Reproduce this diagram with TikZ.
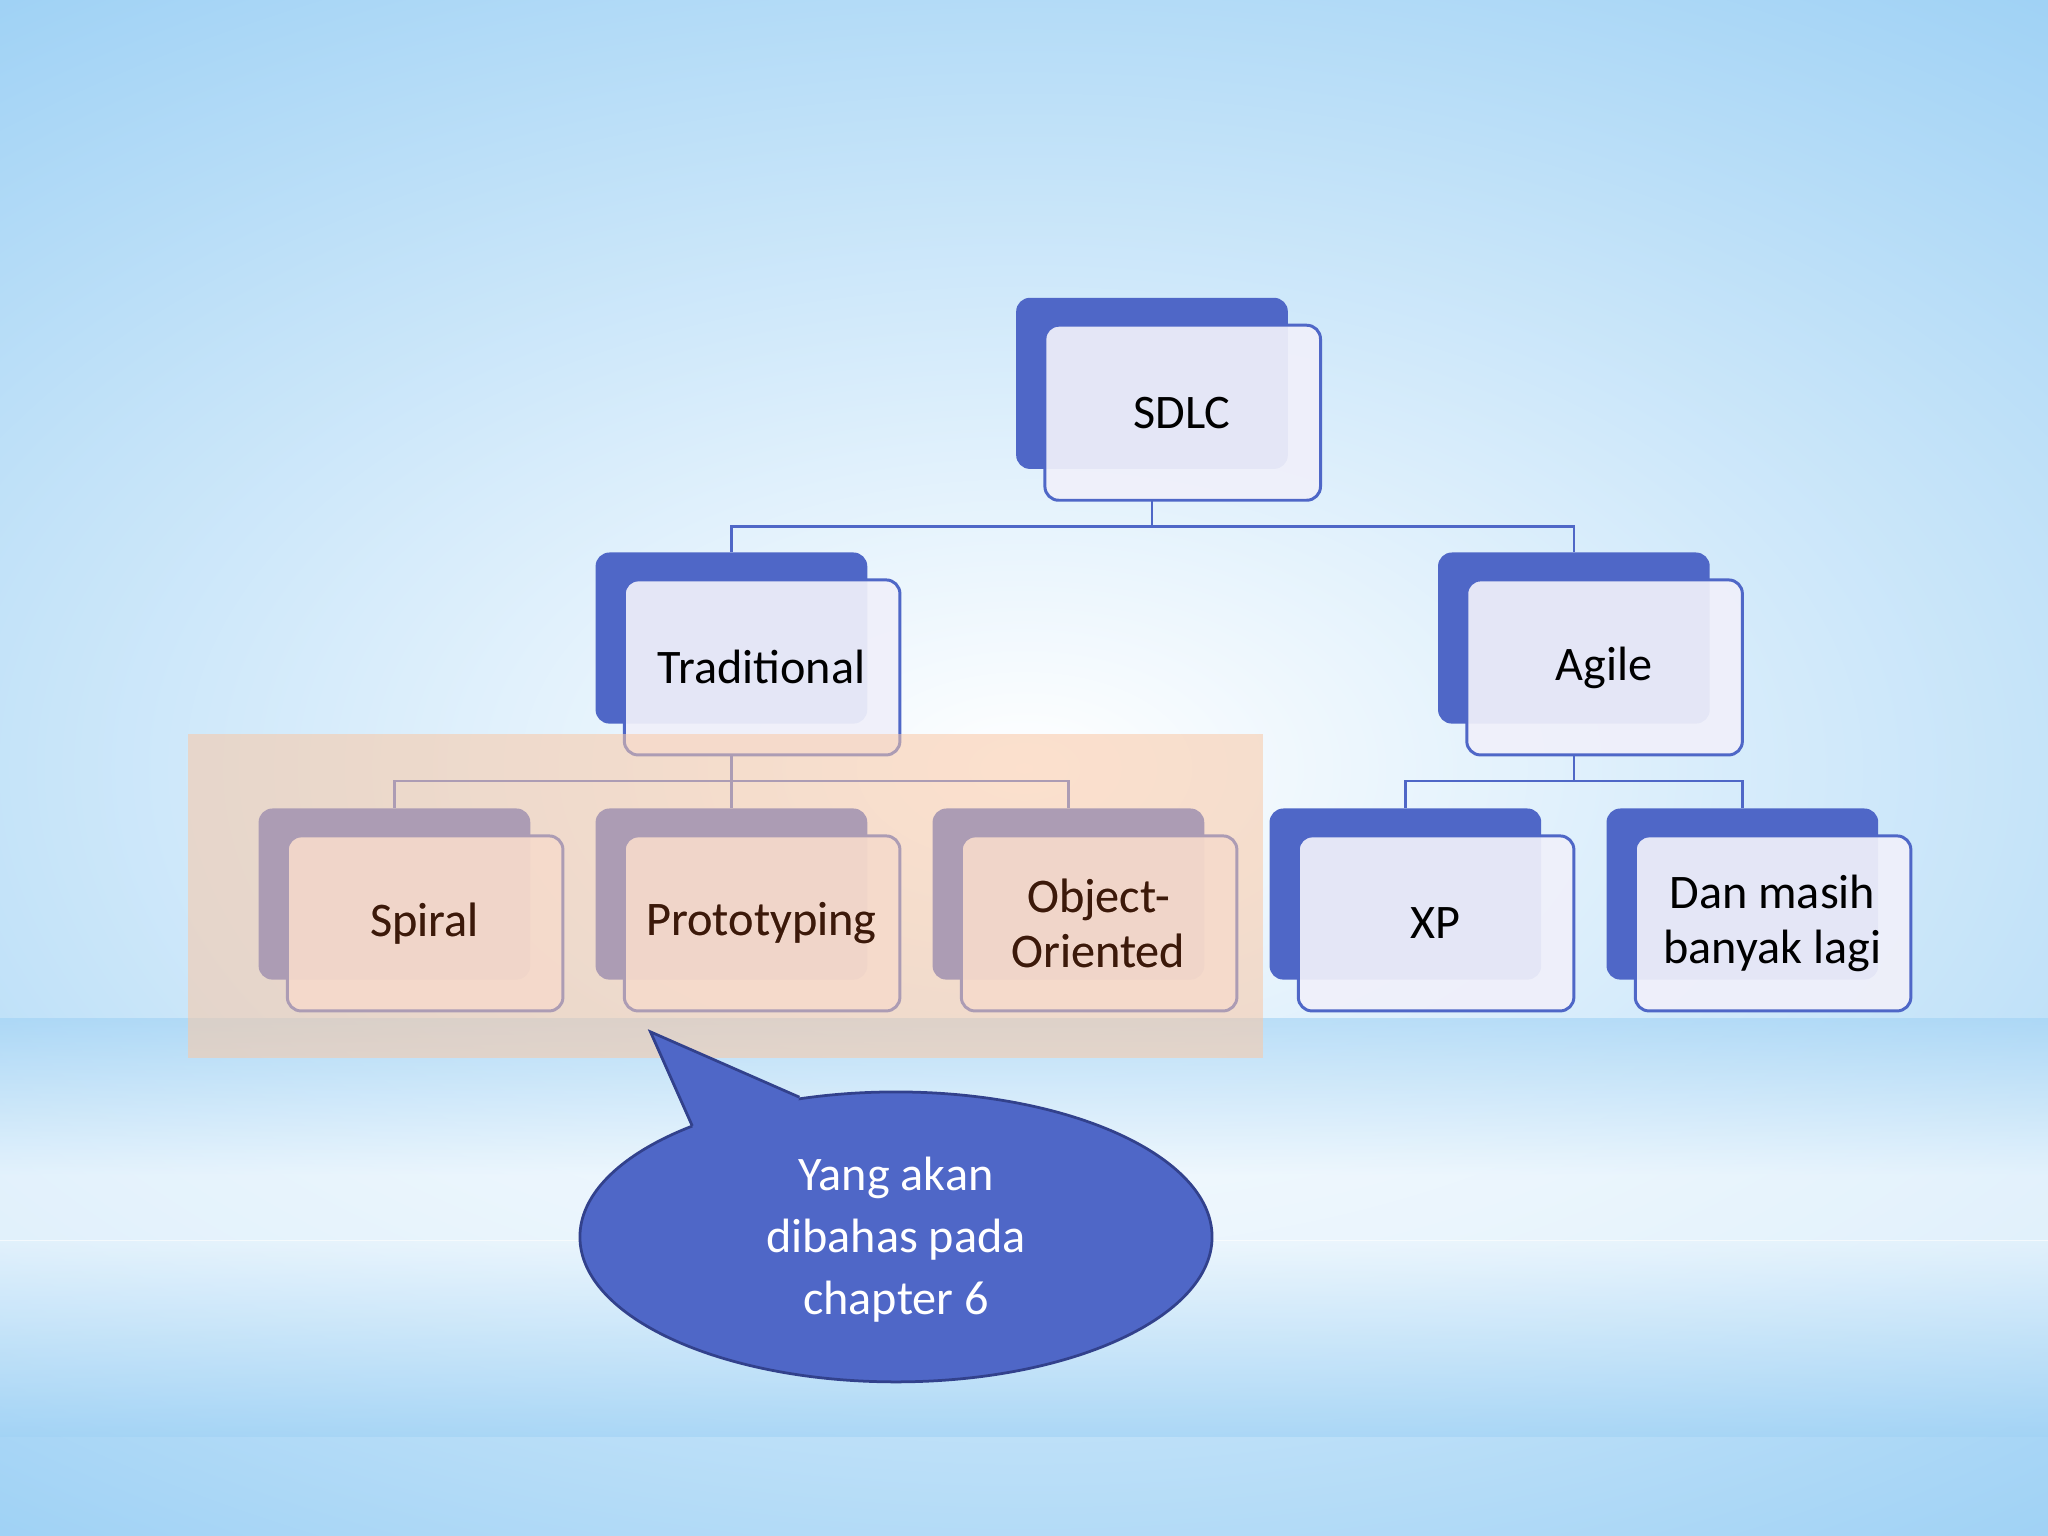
\documentclass[tikz,border=0pt]{standalone}
\usepackage{fontspec}
\setmainfont{Carlito}
\usetikzlibrary{shapes.geometric}
\definecolor{bblue}{RGB}{79,103,199}
\definecolor{lblue}{RGB}{160,210,245}
\definecolor{peach}{RGB}{250,200,165}
\definecolor{brownt}{RGB}{60,25,10}
\definecolor{dblue}{RGB}{50,65,140}
\begin{document}
\begin{tikzpicture}[x=0.02cm,y=-0.02cm,
  back/.style={fill=bblue,rounded corners=6pt},
  front/.style={draw=bblue,line width=1.3pt,fill={rgb,255:red,240;green,240;blue,250},fill opacity=0.93,rounded corners=6pt},
  lbl/.style={font=\fontsize{21}{22}\selectfont,align=center,text=black},
  conn/.style={draw=bblue,line width=1.2pt}]
\useasboundingbox (0,0) rectangle (1568,1176);
\fill[lblue] (0,0) rectangle (1568,1176);
\shade[inner color=white,outer color=lblue] (-500,-150) rectangle (2068,1326);
\shade[top color=white!0!lblue,bottom color=white,opacity=0.6] (0,780) rectangle (1568,900);
\fill[white,opacity=0.6] (0,900) rectangle (1568,950);
\shade[top color=white,bottom color=lblue,opacity=0.6] (0,950) rectangle (1568,1100);
% boxes
\newcommand{\mybox}[4]{%
  \fill[back] (#2,#3) rectangle ++(208,131);
  \draw[front] (#2+22,#3+21) rectangle ++(211,134);
  \node[lbl] (#1) at (#2+127,#3+88) {#4};
  \coordinate (#1t) at (#2+104,#3);
  \coordinate (#1b) at (#2+104,#3+155);}
\mybox{sdlc}{778}{228}{SDLC}
\mybox{trad}{456}{423}{Traditional}
\mybox{agile}{1101}{423}{Agile}
\mybox{spiral}{198}{619}{Spiral}
\mybox{proto}{456}{619}{Prototyping}
\mybox{oo}{714}{619}{Object-\\[2pt]Oriented}
\mybox{xp}{972}{619}{XP}
\mybox{dan}{1230}{619}{Dan masih\\[2pt]banyak lagi}
\draw[conn] (sdlcb) -- ++(0,20) -| (tradt);
\draw[conn] (sdlcb) ++(0,20) -| (agilet);
\draw[conn] (tradb) -- ++(0,20) -| (spiralt);
\draw[conn] (tradb) ++(0,20) -| (oot);
\draw[conn] (tradb) ++(0,20) -- (protot);
\draw[conn] (agileb) -- ++(0,20) -| (xpt);
\draw[conn] (agileb) ++(0,20) -| (dant);
% overlay
\fill[peach,opacity=0.55] (144,562) rectangle (967,810);
\node[lbl,text=brownt] at (spiral) {Spiral};
\node[lbl,text=brownt] at (proto) {Prototyping};
\node[lbl,text=brownt] at (oo) {Object-\\[2pt]Oriented};
% callout
\draw[fill=bblue,draw=dblue,line width=1.2pt] (686,947) ellipse [x radius=242,y radius=111];
\fill[bblue] (530,862) -- (498,790) -- (612,840) -- (600,885) -- (540,885) -- cycle;
\draw[dblue,line width=1.2pt] (530,862) -- (498,790) -- (612,840);
\node[lbl,text=white,font=\fontsize{21}{27}\selectfont] (call) at (686,949) {Yang akan\\dibahas pada\\chapter 6};
\end{tikzpicture}
\end{document}
